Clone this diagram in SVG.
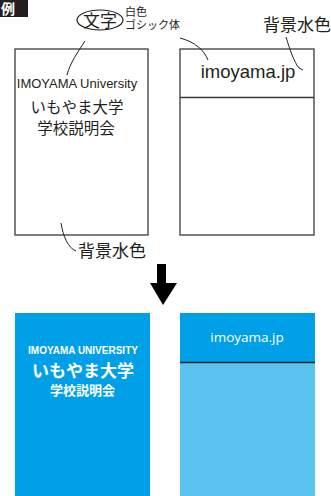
<svg xmlns="http://www.w3.org/2000/svg" width="331" height="496" viewBox="0 0 331 496">
<style>
.jp{font-family:"Liberation Sans","Noto Sans CJK JP",sans-serif;fill:#231f20}
.box{fill:#fff;stroke:#3a3a3a;stroke-width:1.3}
.lead{fill:none;stroke:#231f20;stroke-width:1}
.w{fill:#fff;font-family:"Liberation Sans","Noto Sans CJK JP",sans-serif}
</style>
<rect width="331" height="496" fill="#fff"/>
<g id="label-rei">
<rect x="0" y="0" width="28" height="17" fill="#231f20"/>
<text x="1" y="13.5" class="w" font-size="14" font-weight="bold">例</text>
</g>
<g id="left-sketch">
<rect class="box" x="15" y="49" width="133" height="186"/>
<text class="jp" x="77" y="88" font-size="13" text-anchor="middle">IMOYAMA University</text>
<text class="jp" x="77" y="113" font-size="15.5" text-anchor="middle">いもやま大学</text>
<text class="jp" x="76" y="134" font-size="15.5" text-anchor="middle">学校説明会</text>
</g>
<g id="right-sketch">
<rect class="box" x="180" y="49" width="134" height="186"/>
<line x1="180" y1="97.5" x2="314" y2="97.5" stroke="#3a3a3a" stroke-width="1.3"/>
<text class="jp" x="248" y="78" font-size="18.5" text-anchor="middle">imoyama.jp</text>
</g>
<g id="note-moji">
<ellipse cx="100" cy="20" rx="23" ry="10" fill="none" stroke="#231f20" stroke-width="1.2"/>
<text class="jp" x="100" y="27" font-size="17" text-anchor="middle">文字</text>
<text class="jp" x="125" y="16" font-size="11">白色</text>
<text class="jp" x="125" y="29" font-size="11">ゴシック体</text>
</g>
<g id="note-bg-top">
<text class="jp" x="263" y="31" font-size="17">背景水色</text>
</g>
<g id="note-bg-bottom">
<text class="jp" x="78" y="257" font-size="17">背景水色</text>
</g>
<g id="connectors">
<path class="lead" d="M85,41 C78,52 70,63 67,75"/>
<path class="lead" d="M180,38 C195,42 204,50 208,60"/>
<path class="lead" d="M286,37 C290,50 294,62 299,68 L303,70"/>
<path class="lead" d="M61,223 C63,236 68,248 76,251"/>
<polygon points="157,264 166,264 166,283 177,283 163,305 150,283 157,283" fill="#000"/>
</g>
<g id="left-result">
<rect x="15" y="313" width="135" height="183" fill="#00a0e9"/>
<text class="w" x="83" y="354" font-size="10" font-weight="bold" text-anchor="middle">IMOYAMA UNIVERSITY</text>
<text class="w" x="83" y="377" font-size="17" font-weight="bold" text-anchor="middle">いもやま大学</text>
<text class="w" x="82.5" y="395" font-size="13" font-weight="bold" text-anchor="middle">学校説明会</text>
</g>
<g id="right-result">
<rect x="180" y="313" width="135" height="183" fill="#5bc3f0"/>
<rect x="180" y="313" width="135" height="49" fill="#00a0e9"/>
<line x1="180" y1="362.5" x2="315" y2="362.5" stroke="#1f2d33" stroke-width="1.5"/>
<text x="247" y="342" font-size="13.5" fill="#fff" font-family="'Open Sans','Liberation Sans',sans-serif" text-anchor="middle">imoyama.jp</text>
</g>
</svg>
